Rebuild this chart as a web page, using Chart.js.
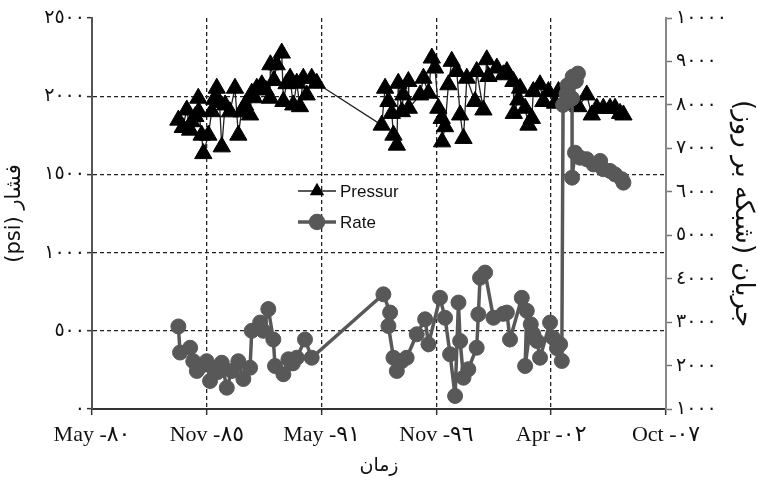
<!DOCTYPE html>
<html>
<head>
<meta charset="utf-8">
<script src="https://cdn.jsdelivr.net/npm/chart.js@4.4.1/dist/chart.umd.min.js"></script>
<style>
  html, body { margin: 0; padding: 0; background: #fff; }
  #wrap { width: 758px; height: 477px; }
</style>
</head>
<body>
<div id="wrap"><canvas id="c" width="758" height="477"></canvas></div>
<script>
// ---- data (decimal years) ----
const pressureDates = [1984.49,1984.70,1984.89,1985.05,1985.13,1985.30,1985.44,1985.46,1985.60,1985.68,1985.92,1986.08,1986.20,1986.32,1986.45,1986.56,1986.72,1986.95,1987.19,1987.35,1987.50,1987.67,1987.91,1987.99,1988.10,1988.23,1988.47,1988.65,1988.86,1988.88,1989.05,1989.18,1989.42,1989.50,1989.65,1989.82,1989.97,1990.14,1990.29,1990.45,1990.61,1990.85,1991.09,
  1994.19,1994.35,1994.51,1994.67,1994.75,1994.91,1994.98,1995.15,1995.22,1995.46,1995.48,1996.02,1996.18,1996.42,1996.58,1996.73,1996.89,1997.05,1997.07,1997.21,1997.37,1997.53,1997.77,1997.93,1998.09,1998.25,1998.64,1998.72,1999.04,1999.20,1999.28,1999.68,1999.99,
  2000.16,2000.47,2000.49,2000.71,2000.79,2001.03,2001.19,2001.35,2001.42,2001.74,2001.90,2002.14,2002.46,2002.62,2003.09,2003.57,2003.97,2004.21,2004.45,2004.76,2005.08,2005.32,2005.56,2005.72];
const pressureValues = [1847,1800,1912,1783,1837,1870,1987,1901,1751,1633,1751,1901,1980,2051,1960,1676,1944,1900,2051,1751,1900,1944,1880,2019,1990,2051,2073,2040,1987,2201,2100,2201,2276,1966,2080,2115,1944,2083,1933,2115,2008,2115,2083,
  1815,2051,1966,1890,1751,1687,2083,1901,2008,2094,1923,2008,2115,2019,2244,2180,1923,1858,1708,1805,2073,2223,2158,1880,1730,2115,1966,2158,1912,2233,2126,2180,2137,
  2158,2094,1890,1976,2051,1923,1815,1858,2030,2073,1966,2030,1955,2030,1944,1933,2008,1880,1923,1923,1923,1923,1890,1880];

const rateDates = [1984.49,1984.57,1985.05,1985.20,1985.37,1985.55,1985.84,1986.00,1986.14,1986.35,1986.56,1986.80,1987.04,1987.35,1987.59,1987.91,1987.99,1988.39,1988.54,1988.78,1989.02,1989.10,1989.50,1989.74,1989.95,1990.14,1990.53,1990.85,
  1994.27,1994.59,1994.51,1994.75,1994.91,1995.15,1995.38,1995.86,1996.26,1996.42,1996.97,1997.21,1997.45,1997.69,1997.85,1997.93,1998.09,1998.32,1998.72,1998.80,1998.88,1999.12,1999.52,
  1999.98,2000.16,2000.31,2000.87,2001.11,2001.03,2001.30,2001.42,2001.60,2001.74,2002.22,2002.36,2002.55,2002.70,2002.78,
  2002.84,2003.00,2003.05,2003.30,2003.55,2003.45,2003.27,2003.27,2003.41,2003.65,2003.97,2004.29,2004.61,2004.76,2005.08,2005.32,2005.64,2005.72];
const rateValues = [2900,2300,2410,2100,1875,1980,2100,1645,1950,1850,2065,1490,1875,2100,1690,1950,2800,2990,2800,3300,2600,1990,1800,2145,2050,2180,2600,2180,
  3640,3220,2910,2180,1875,2105,2180,2720,3065,2490,3560,3100,2260,1300,3450,2565,1720,1915,2410,3180,4020,4140,3100,
  3190,3220,2600,3560,3260,1990,2950,2725,2565,2180,2990,2640,2400,2490,2105,
  8000,8250,8450,8650,8720,8550,8150,6325,6900,6785,6750,6630,6710,6520,6480,6400,6290,6210];

const xTickValues = [1980.37, 1985.85, 1991.32, 1996.80, 2002.27, 2007.75];
const xTickLabels = ['May -٨٠', 'Nov -٨٥', 'May -٩١', 'Nov -٩٦', 'Apr -٠٢', 'Oct -٠٧'];
const pressureTicks = [0, 500, 1000, 1500, 2000, 2500];
const rateTicks = [1000, 2000, 3000, 4000, 5000, 6000, 7000, 8000, 9000, 10000];

const seriesLabels = ['Pressur', 'Rate'];
const leftTitle = '\u202Bفشار (psi)\u202C';
const rightTitle = '\u202Bجریان (شبکه بر روز)\u202C';
const bottomTitle = 'زمان';

const arDigits = '٠١٢٣٤٥٦٧٨٩';
const toAr = v => String(v).replace(/\d/g, d => arDigits[d]);
const zip = (xs, ys) => xs.map((x, i) => ({x: x, y: ys[i]}));

const tickFont = {family: '"Liberation Serif", "DejaVu Sans", serif', size: 19};

const insideLegend = {
  id: 'insideLegend',
  afterDatasetsDraw(chart) {
    const ctx = chart.ctx;
    const ds = chart.data.datasets;
    const items = [
      {d: ds[1], y: 191, r: 7},
      {d: ds[0], y: 222, r: 6.5}
    ];
    ctx.save();
    items.forEach(it => {
      const d = it.d;
      ctx.strokeStyle = d.borderColor;
      ctx.lineWidth = d.borderWidth;
      ctx.setLineDash([]);
      ctx.beginPath();
      ctx.moveTo(298, it.y);
      ctx.lineTo(336, it.y);
      ctx.stroke();
      ctx.fillStyle = d.pointBackgroundColor;
      ctx.strokeStyle = d.pointBorderColor;
      Chart.helpers.drawPoint(ctx, {pointStyle: d.pointStyle, radius: it.r, rotation: 0, borderWidth: 1}, 317, it.y);
      ctx.fillStyle = '#111';
      ctx.font = '17px "Liberation Sans", Arial, sans-serif';
      ctx.textBaseline = 'middle';
      ctx.textAlign = 'left';
      ctx.fillText(d.label, 340, it.y + 1);
    });
    ctx.restore();
  }
};

new Chart(document.getElementById('c'), {
  type: 'line',
  data: {
    datasets: [
      {
        label: seriesLabels[1],
        data: zip(rateDates, rateValues),
        yAxisID: 'y1',
        borderColor: '#585858',
        backgroundColor: '#585858',
        pointBackgroundColor: '#585858',
        pointBorderColor: '#585858',
        borderWidth: 3.5,
        pointStyle: 'circle',
        pointRadius: 7.5,
        pointBorderWidth: 1,
        tension: 0,
        order: 1
      },
      {
        label: seriesLabels[0],
        data: zip(pressureDates, pressureValues),
        yAxisID: 'y',
        borderColor: '#222',
        backgroundColor: '#000',
        pointBackgroundColor: '#000',
        pointBorderColor: '#000',
        borderWidth: 1.3,
        pointStyle: 'triangle',
        pointRadius: 10,
        pointBorderWidth: 1,
        tension: 0,
        order: 2
      }
    ]
  },
  options: {
    responsive: false,
    animation: false,
    layout: {padding: {top: 18, left: 0, right: 0, bottom: 0}},
    plugins: {legend: {display: false}, tooltip: {enabled: false}},
    scales: {
      x: {
        type: 'linear',
        min: xTickValues[0],
        max: xTickValues[xTickValues.length - 1],
        afterBuildTicks: s => { s.ticks = xTickValues.map(v => ({value: v})); },
        afterFit: s => { s.height = 68; },
        ticks: {
          callback: (v, i) => xTickLabels[i],
          font: {family: '"Liberation Serif", "DejaVu Sans", serif', size: 22},
          color: '#111',
          padding: 7,
          maxRotation: 0,
          autoSkip: false
        },
        grid: {
          color: c => (c.index === 0 || c.index === xTickValues.length - 1) ? 'rgba(0,0,0,0)' : '#222',
          lineWidth: 1.3,
          tickColor: '#333',
          tickLength: 6,
          tickWidth: 1.5
        },
        border: {display: true, color: '#333', width: 2, dash: [4, 3]},
        title: {display: true, text: bottomTitle, font: {family: '"DejaVu Sans", serif', size: 19}, color: '#111', padding: {top: 0, bottom: 0}}
      },
      y: {
        position: 'left',
        min: 0,
        max: 2500,
        afterBuildTicks: s => { s.ticks = pressureTicks.map(v => ({value: v})); },
        afterFit: s => { s.width = 92; },
        ticks: {
          callback: v => toAr(v),
          font: tickFont,
          color: '#111',
          padding: 2
        },
        grid: {
          color: c => (c.index === 0 || c.index === pressureTicks.length - 1) ? 'rgba(0,0,0,0)' : '#222',
          lineWidth: 1.3,
          tickColor: '#333',
          tickLength: 5,
          tickWidth: 1.5
        },
        border: {display: true, color: '#555', width: 2, dash: [4, 3]},
        title: {display: true, text: leftTitle, font: {family: '"DejaVu Sans", serif', size: 21}, color: '#111', padding: {top: 2, bottom: 0}}
      },
      y1: {
        position: 'right',
        min: 1000,
        max: 10000,
        afterBuildTicks: s => { s.ticks = rateTicks.map(v => ({value: v})); },
        afterFit: s => { s.width = 92; },
        ticks: {
          callback: v => toAr(v),
          font: tickFont,
          color: '#111',
          padding: 4
        },
        grid: {
          drawOnChartArea: false,
          tickColor: '#777',
          tickLength: 6,
          tickWidth: 1.5
        },
        border: {display: true, color: '#888', width: 2},
        title: {display: true, text: rightTitle, font: {family: '"DejaVu Sans", serif', size: 26}, color: '#111', padding: {top: 0, bottom: 0}}
      }
    }
  },
  plugins: [insideLegend]
});
</script>
</body>
</html>
